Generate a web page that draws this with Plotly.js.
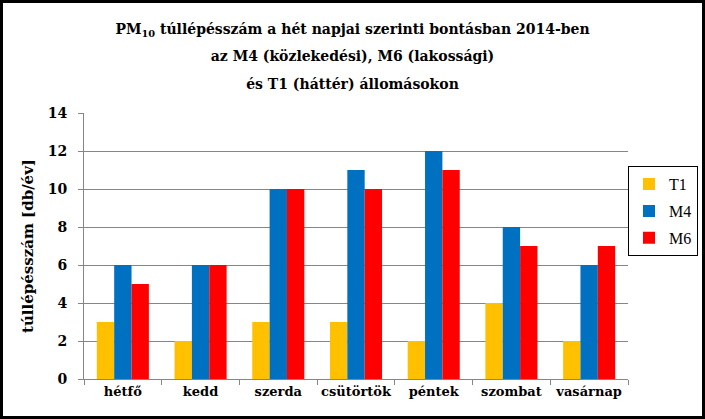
<!DOCTYPE html>
<html>
<head>
<meta charset="utf-8">
<script src="https://cdn.plot.ly/plotly-3.0.1.min.js"></script>
<style>
html,body{margin:0;padding:0;background:#fff;}
#wrap{position:relative;width:705px;height:419px;}
#chart{width:705px;height:419px;}
#frame{position:absolute;left:0;top:0;width:705px;height:419px;box-sizing:border-box;border:3px solid #000;pointer-events:none;}
</style>
</head>
<body>
<div id="wrap"><div id="chart"></div><div id="frame"></div></div>
<script>
const categories = ['hétfő','kedd','szerda','csütörtök','péntek','szombat','vasárnap'];
const seriesNames = ['T1','M4','M6'];
const valuesT1 = [3,2,3,3,2,4,2];
const valuesM4 = [6,6,10,11,12,8,6];
const valuesM6 = [5,6,10,10,11,7,7];
const colors = ['#FFC000','#0070C0','#FF0000'];

const serif = 'Liberation Serif';
const boldSerif = 'DejaVu Serif';
const allValues = [valuesT1, valuesM4, valuesM6];
const traces = allValues.map((v,i)=>({
  type:'bar', x:categories, y:v, name:seriesNames[i],
  marker:{color:colors[i]}, legendgroup:'g'+i
}));

const ts = s => '<span style="font-size:14px">' + s + '</span>';
const layout = {
  width:705, height:419,
  margin:{l:84, r:77, t:113, b:40, autoexpand:false},
  paper_bgcolor:'#fff', plot_bgcolor:'#fff',
  bargap:0.33, bargroupgap:0,
  title:{
    text: ts('PM<sub>10</sub> túllépésszám a hét napjai szerinti bontásban 2014-ben') + '<br>' +
          ts('az M4 (közlekedési), M6 (lakossági)') + '<br>' +
          ts('és T1 (háttér) állomásokon'),
    font:{family:boldSerif, size:21, color:'#000', weight:'bold'},
    x:0.5, xanchor:'center', y:0.919, yanchor:'middle', yref:'container'
  },
  xaxis:{
    showline:true, linecolor:'#868686', linewidth:1,
    ticks:'outside', ticklen:5, tickcolor:'#868686', tickson:'boundaries',
    tickangle:0,
    tickfont:{family:boldSerif, size:13, color:'#000', weight:'bold'},
    showgrid:false
  },
  yaxis:{
    range:[0,14], dtick:2, tick0:0,
    showline:true, linecolor:'#868686', linewidth:1,
    ticks:'outside', ticklen:5, tickcolor:'#868686',
    ticklabelstandoff:8,
    tickfont:{family:boldSerif, size:14, color:'#000', weight:'bold'},
    gridcolor:'#868686', gridwidth:1, zeroline:false,
    title:{text:'túllépésszám [db/év]', font:{family:boldSerif, size:15, color:'#000', weight:'bold'}, standoff:10}
  },
  showlegend:true,
  legend:{
    x:1.0, xanchor:'left', y:0.80, yanchor:'top',
    bordercolor:'#000', borderwidth:1, bgcolor:'#fff',
    font:{family:serif, size:16, color:'#000'},
    traceorder:'grouped', tracegroupgap:3,
    itemwidth:30
  }
};
Plotly.newPlot('chart', traces, layout, {displayModeBar:false, staticPlot:true});
</script>
</body>
</html>
